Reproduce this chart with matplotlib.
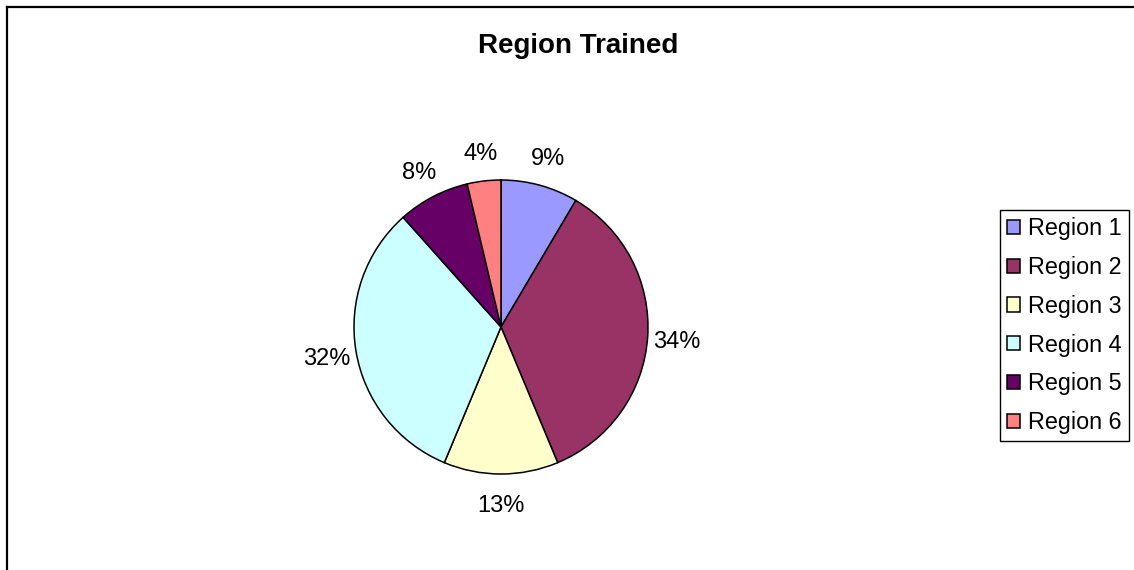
import matplotlib
matplotlib.use("Agg")
import matplotlib.pyplot as plt
from matplotlib.lines import Line2D

plt.rcParams['font.family'] = ['Liberation Sans', 'DejaVu Sans']

title = "Region Trained"
regions = ["Region 1", "Region 2", "Region 3", "Region 4", "Region 5", "Region 6"]
shares = [8.5, 35.2, 12.6, 32.1, 7.9, 3.7]
pct_labels = ["9%", "34%", "13%", "32%", "8%", "4%"]
colors = ["#9999FF", "#993366", "#FFFFCC", "#CCFFFF", "#660066", "#FF8080"]

W, H = 1134, 570
fig = plt.figure(figsize=(W / 100, H / 100), dpi=100)

# pie axes: centre (501, 327) px, radius 147 px
cx, cy, r = 501, 327, 147
lim = 1.3
side = 2 * r * lim
ax = fig.add_axes([(cx - side / 2) / W, (H - cy - side / 2) / H, side / W, side / H])
wedges, texts, autotexts = ax.pie(
    shares, colors=colors, startangle=90, counterclock=False,
    autopct="%.0f%%", pctdistance=1.2,
    wedgeprops=dict(edgecolor="black", linewidth=1.1),
    textprops=dict(fontsize=17, color="black"))
for t, s in zip(autotexts, pct_labels):
    t.set_text(s)
    t.set_va("center_baseline")
ax.set_xlim(-lim, lim)
ax.set_ylim(-lim, lim)
ax.set_aspect("equal")
ax.axis("off")

fig.text(578.5 / W, 1 - 46 / H, title, ha="center", va="center",
         fontsize=20, fontweight="bold")

# chart border (top and left visible, cropped on right/bottom)
fig.add_artist(Line2D([7 / W, 1.0], [1 - 7 / H, 1 - 7 / H], transform=fig.transFigure,
                      color="black", lw=1.6))
fig.add_artist(Line2D([7 / W, 7 / W], [1 - 7 / H, 0.0], transform=fig.transFigure,
                      color="black", lw=1.6))

leg = fig.legend(wedges, regions, loc="upper left",
                 bbox_to_anchor=(1000 / W, 1 - 210 / H),
                 fontsize=16.8, frameon=True, fancybox=False, shadow=False,
                 edgecolor="black", framealpha=1, borderpad=0.3,
                 labelspacing=0.68, handlelength=0.55, handleheight=0.55,
                 handletextpad=0.35, borderaxespad=0)
leg.get_frame().set_linewidth(1.0)

fig.savefig("out.png", dpi=100)
